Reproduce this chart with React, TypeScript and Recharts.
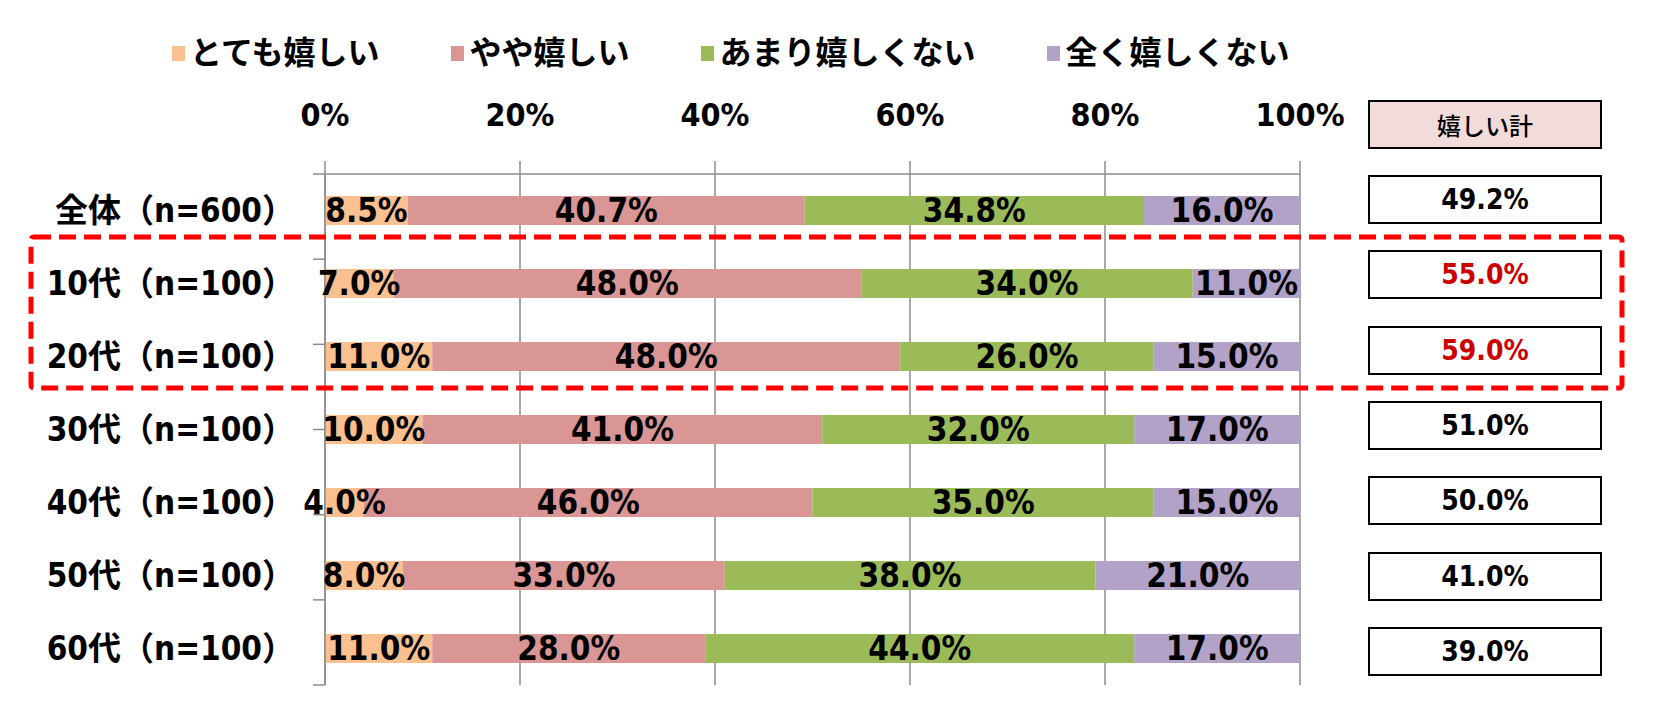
import React from 'react';
import { BarChart, Bar, XAxis, YAxis, CartesianGrid, LabelList, Legend } from 'recharts';

const categories = ['全体（n=600）', '10代（n=100）', '20代（n=100）', '30代（n=100）', '40代（n=100）', '50代（n=100）', '60代（n=100）'];
const seriesNames = ['とても嬉しい', 'やや嬉しい', 'あまり嬉しくない', '全く嬉しくない'];
const totemo = [8.5, 7.0, 11.0, 10.0, 4.0, 8.0, 11.0];
const yaya = [40.7, 48.0, 48.0, 41.0, 46.0, 33.0, 28.0];
const amari = [34.8, 34.0, 26.0, 32.0, 35.0, 38.0, 44.0];
const mattaku = [16.0, 11.0, 15.0, 17.0, 15.0, 21.0, 17.0];
const ureshiiTotal = [49.2, 55.0, 59.0, 51.0, 50.0, 41.0, 39.0];
const highlighted = [false, true, true, false, false, false, false];
const xTicks = [0, 20, 40, 60, 80, 100];
const totalHeader = '嬉しい計';

const seriesValues = [totemo, yaya, amari, mattaku];
const seriesColors = ['#FAC090', '#D99694', '#9BBB59', '#B3A2C7'];
const keys = ['s0', 's1', 's2', 's3'];

const data = categories.map((c, i) => {
  const row: any = { name: c };
  keys.forEach((k, j) => { row[k] = seriesValues[j][i]; });
  return row;
});
const bandTicks = categories.map((_, i) => i).concat([categories.length]);

const LATIN = "'DejaVu Sans Condensed', 'DejaVu Sans', 'Noto Sans CJK JP', sans-serif";
const CJK = "'Noto Sans CJK JP', sans-serif";
const GRID = '#8C8C8C';

const fmt = (v: any) => Number(v).toFixed(1) + '%';

const renderLegend = (props: any) => {
  const payload = [...(props.payload || [])].sort(
    (a: any, b: any) => seriesNames.indexOf(a.value) - seriesNames.indexOf(b.value)
  );
  return (
    <div style={{ display: 'flex', alignItems: 'center', flexWrap: 'nowrap', whiteSpace: 'nowrap' }}>
      {payload.map((e: any, i: number) => (
        <div key={i} style={{ display: 'flex', alignItems: 'center', marginRight: 72, flexShrink: 0 }}>
          <span style={{ display: 'inline-block', width: 13, height: 15, background: e.color, marginRight: 5, marginTop: 6 }} />
          <span style={{ fontFamily: CJK, fontWeight: 'bold', fontSize: 32, color: '#000', lineHeight: '40px' }}>{e.value}</span>
        </div>
      ))}
    </div>
  );
};

const boxTop0 = 175;
const boxStep = 75.3;

export default function App() {
  return (
    <div style={{ position: 'absolute', left: 0, top: 0, width: 1659, height: 719, background: '#fff', overflow: 'hidden' }}>
      <BarChart
        width={1659}
        height={719}
        data={data}
        layout="vertical"
        barSize={29}
        margin={{ top: 114, right: 359, bottom: 34, left: 25 }}
      >
        <CartesianGrid vertical horizontal={false} stroke={GRID} strokeWidth={1.5} yAxisId={1} />
        <XAxis
          type="number"
          orientation="top"
          domain={[0, 100]}
          ticks={xTicks}
          interval={0}
          height={60}
          tickFormatter={(v: any) => v + '%'}
          tickSize={13}
          tickMargin={35}
          axisLine={{ stroke: GRID, strokeWidth: 1.5 }}
          tickLine={{ stroke: GRID, strokeWidth: 1.5 }}
          tick={{ fill: '#000', fontSize: 32, fontWeight: 'bold', fontFamily: LATIN }}
        />
        <YAxis
          yAxisId={0}
          type="number"
          domain={[0, categories.length]}
          ticks={bandTicks}
          interval={0}
          allowDataOverflow
          width={12}
          tickSize={12}
          tickFormatter={() => ''}
          axisLine={{ stroke: GRID, strokeWidth: 1.5 }}
          tickLine={{ stroke: GRID, strokeWidth: 1.5 }}
        />
        <YAxis
          yAxisId={1}
          type="category"
          dataKey="name"
          width={288}
          axisLine={false}
          tickLine={false}
          tickSize={0}
          tickMargin={18}
          interval={0}
          tick={{ fill: '#000', fontSize: 33, fontWeight: 'bold', fontFamily: LATIN }}
        />
        <Legend
          content={renderLegend}
          layout="horizontal"
          verticalAlign="middle"
          align="center"
          wrapperStyle={{ top: 30, left: 172, width: 1400, height: 40 }}
        />
        {keys.map((k, j) => (
          <Bar key={k} dataKey={k} name={seriesNames[j]} stackId="a" yAxisId={1} fill={seriesColors[j]} isAnimationActive={false}>
            <LabelList
              dataKey={k}
              position="center"
              formatter={fmt}
              fill="#000"
              fontSize={33}
              fontWeight="bold"
              fontFamily={LATIN}
            />
          </Bar>
        ))}
      </BarChart>

      <div style={{ position: 'absolute', left: 1368, top: 100, width: 234, height: 49, boxSizing: 'border-box', border: '2.5px solid #000', background: '#F2DCDB', display: 'flex', alignItems: 'center', justifyContent: 'center', fontFamily: CJK, fontWeight: 500, fontSize: 24, color: '#000' }}>
        {totalHeader}
      </div>
      {ureshiiTotal.map((v, i) => (
        <div key={i} style={{ position: 'absolute', left: 1368, top: boxTop0 + i * boxStep, width: 234, height: 49, boxSizing: 'border-box', border: '2.5px solid #000', background: '#fff', display: 'flex', alignItems: 'center', justifyContent: 'center', fontFamily: LATIN, fontWeight: 'bold', fontSize: 28, color: highlighted[i] ? '#CC0000' : '#000' }}>
          {fmt(v)}
        </div>
      ))}

      <svg width={1659} height={719} style={{ position: 'absolute', left: 0, top: 0, pointerEvents: 'none' }}>
        <rect x={31} y={237} width={1591} height={151} rx={3} fill="none" stroke="#FF0000" strokeWidth={5} strokeDasharray="17 8" />
      </svg>
    </div>
  );
}
